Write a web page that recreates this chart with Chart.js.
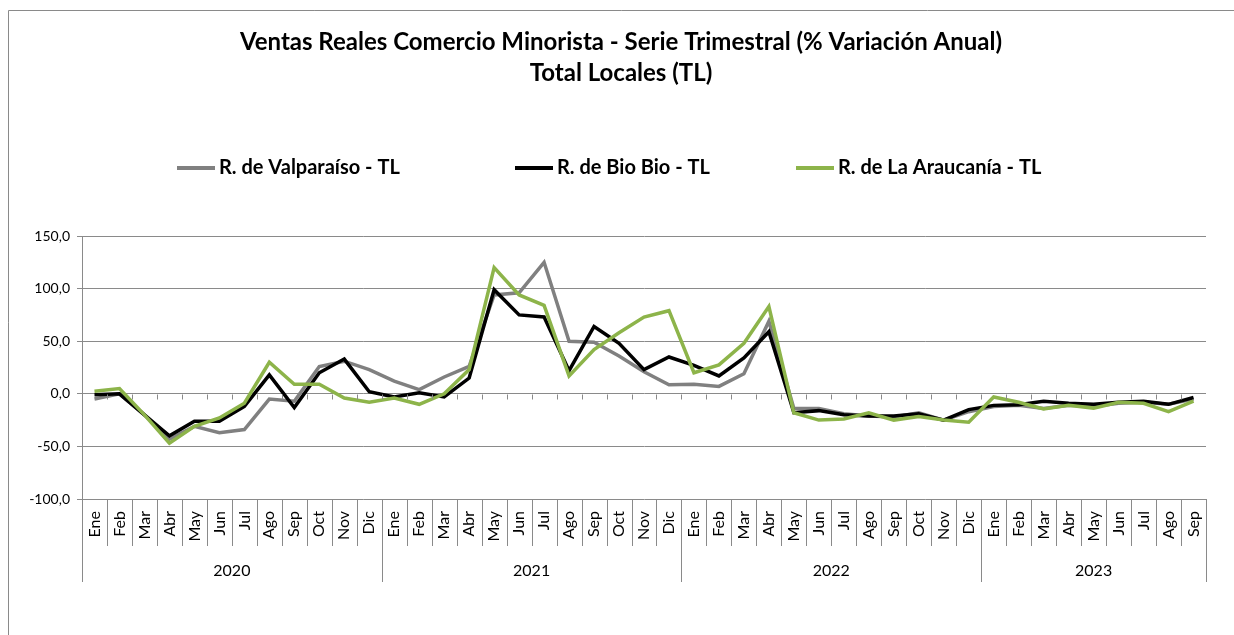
<!DOCTYPE html>
<html>
<head>
<meta charset="utf-8">
<script src="https://cdn.jsdelivr.net/npm/chart.js@4.4.1/dist/chart.umd.min.js"></script>
<style>
  html, body { margin: 0; padding: 0; background: #fff; }
  #wrap { position: relative; width: 1234px; height: 635px; }
</style>
</head>
<body>
<div id="wrap"><canvas id="ventasChart"></canvas></div>
<script>
// Months and years on the category axis
const months = ["Ene", "Feb", "Mar", "Abr", "May", "Jun", "Jul", "Ago", "Sep", "Oct", "Nov", "Dic"];
const years = ["2020", "2021", "2022", "2023"];
const monthsPerYear = [12, 12, 12, 9];

// Series (% variación anual)
const valparaiso = [
  -5, 0, -20, -43, -31, -37, -34, -5, -7, 26, 31, 23,
  12, 4, 16, 26, 94, 96, 125, 50, 49, 36, 21, 8.5,
  9, 7, 19, 69, -14, -14, -19, -21, -22, -18, -25, -17,
  -12, -11, -14, -11, -12, -9, -8, -10, -5
];
const bioBio = [
  -1, 0, -20, -40, -26, -26, -12, 18, -13, 20, 33, 2,
  -3, 1, -3, 15, 99, 75, 73, 22, 64, 48, 23, 35,
  27, 17, 34, 59, -18, -16, -20, -21, -21, -19, -25, -15,
  -11, -10.5, -7, -9, -10, -8, -7, -10, -3.5
];
const araucania = [
  2.5, 5, -20, -47, -31, -23, -9, 30, 9, 9, -4, -8,
  -4, -10, 0, 23, 120, 94, 84, 17, 42, 58, 73, 79,
  20, 27.5, 48, 83, -18, -25, -24, -18, -25, -21.5, -25, -27,
  -3, -8, -14.5, -11, -13.6, -8, -9, -17, -7
];

const yTicks = [-100, -50, 0, 50, 100, 150];

const titleLines = [
  "Ventas Reales Comercio Minorista - Serie Trimestral (% Variación Anual)",
  "Total Locales (TL)"
];

// Build labels: one per month
const labels = [];
years.forEach((y, yi) => {
  for (let m = 0; m < monthsPerYear[yi]; m++) labels.push(months[m] + " " + y);
});

const FONT = "Lato, 'Open Sans', sans-serif";
const GRID = "#8a8a8a";
const GREEN = "#8db44a";

const legendItems = [
  { text: "R. de Valparaíso - TL", color: "#808080", x: 177 },
  { text: "R. de Bio Bio - TL", color: "#000000", x: 515 },
  { text: "R. de La Araucanía - TL", color: GREEN, x: 796 }
];

// Draws frame, title, legend and the two-level category axis
const excelDecor = {
  id: "excelDecor",
  beforeDraw(chart) {
    const ctx = chart.ctx;
    ctx.save();
    ctx.fillStyle = "#fff";
    ctx.fillRect(0, 0, chart.width, chart.height);
    ctx.strokeStyle = GRID;
    ctx.lineWidth = 1;
    ctx.beginPath();
    ctx.moveTo(8.5, chart.height);
    ctx.lineTo(8.5, 10.5);
    ctx.lineTo(chart.width, 10.5);
    ctx.stroke();
    ctx.restore();
  },
  afterDraw(chart) {
    const ctx = chart.ctx;
    const xs = chart.scales.x;
    const ys = chart.scales.y;
    const area = chart.chartArea;
    const n = labels.length;
    const step = (area.right - area.left) / n;
    const bx = k => Math.round(area.left + k * step) + 0.5;
    ctx.save();

    // title
    ctx.fillStyle = "#000";
    ctx.textAlign = "center";
    ctx.textBaseline = "middle";
    ctx.font = "bold 24px " + FONT;
    ctx.fillText(titleLines[0], 621, 42);
    ctx.fillText(titleLines[1], 621, 73);

    // legend
    ctx.font = "bold 20px " + FONT;
    ctx.textAlign = "left";
    legendItems.forEach(it => {
      ctx.strokeStyle = it.color;
      ctx.lineWidth = 4;
      ctx.beginPath();
      ctx.moveTo(it.x, 168);
      ctx.lineTo(it.x + 38, 168);
      ctx.stroke();
      ctx.fillText(it.text, it.x + 42, 168);
    });

    // tick marks on the zero line
    const y0 = Math.round(ys.getPixelForValue(0)) + 0.5;
    ctx.strokeStyle = GRID;
    ctx.lineWidth = 1;
    ctx.beginPath();
    for (let k = 1; k < n; k++) {
      ctx.moveTo(bx(k), y0);
      ctx.lineTo(bx(k), y0 + 5);
    }
    ctx.stroke();

    // category separators
    const yearBounds = [0];
    monthsPerYear.forEach(c => yearBounds.push(yearBounds[yearBounds.length - 1] + c));
    ctx.beginPath();
    for (let k = 0; k <= n; k++) {
      const isYear = yearBounds.includes(k);
      ctx.moveTo(bx(k), area.bottom);
      ctx.lineTo(bx(k), isYear ? 582 : 546);
    }
    ctx.stroke();

    // month labels (rotated, reading upwards)
    ctx.fillStyle = "#000";
    ctx.font = "16px " + FONT;
    ctx.textAlign = "right";
    ctx.textBaseline = "middle";
    let idx = 0;
    monthsPerYear.forEach(c => {
      for (let m = 0; m < c; m++) {
        const x = xs.getPixelForValue(idx);
        ctx.save();
        ctx.translate(x, 511);
        ctx.rotate(-Math.PI / 2);
        ctx.fillText(months[m], 0, 0);
        ctx.restore();
        idx++;
      }
    });

    // year labels
    ctx.font = "16px " + FONT;
    ctx.textAlign = "center";
    years.forEach((y, yi) => {
      const mid = (xs.getPixelForValue(yearBounds[yi]) + xs.getPixelForValue(yearBounds[yi + 1] - 1)) / 2;
      ctx.fillText(y, mid, 571);
    });
    ctx.restore();
  }
};

new Chart(document.getElementById("ventasChart"), {
  type: "line",
  data: {
    labels: labels,
    datasets: [
      { label: legendItems[0].text, data: valparaiso, borderColor: "#808080", order: 3 },
      { label: legendItems[1].text, data: bioBio, borderColor: "#000000", order: 2 },
      { label: legendItems[2].text, data: araucania, borderColor: GREEN, order: 1 }
    ]
  },
  options: {
    responsive: true,
    maintainAspectRatio: false,
    animation: false,
    devicePixelRatio: 1,
    layout: { padding: { top: 236, right: 28, bottom: 136, left: 0 } },
    elements: {
      line: { borderWidth: 3.5, tension: 0, borderJoinStyle: "miter", borderCapStyle: "butt" },
      point: { radius: 0, hoverRadius: 0 }
    },
    plugins: {
      legend: { display: false },
      title: { display: false },
      tooltip: { enabled: false }
    },
    scales: {
      x: {
        type: "category",
        offset: true,
        display: false
      },
      y: {
        min: -100,
        max: 150,
        afterFit: s => { s.width = 82; },
        afterBuildTicks: s => { s.ticks = yTicks.map(v => ({ value: v })); },
        grid: { color: GRID, lineWidth: 1, tickLength: 5, drawTicks: true },
        border: { display: true, color: GRID, width: 1 },
        ticks: {
          color: "#000",
          padding: 7,
          font: { family: FONT, size: 14 },
          callback: v => v.toFixed(1).replace(".", ",")
        }
      }
    }
  },
  plugins: [excelDecor]
});
</script>
</body>
</html>
